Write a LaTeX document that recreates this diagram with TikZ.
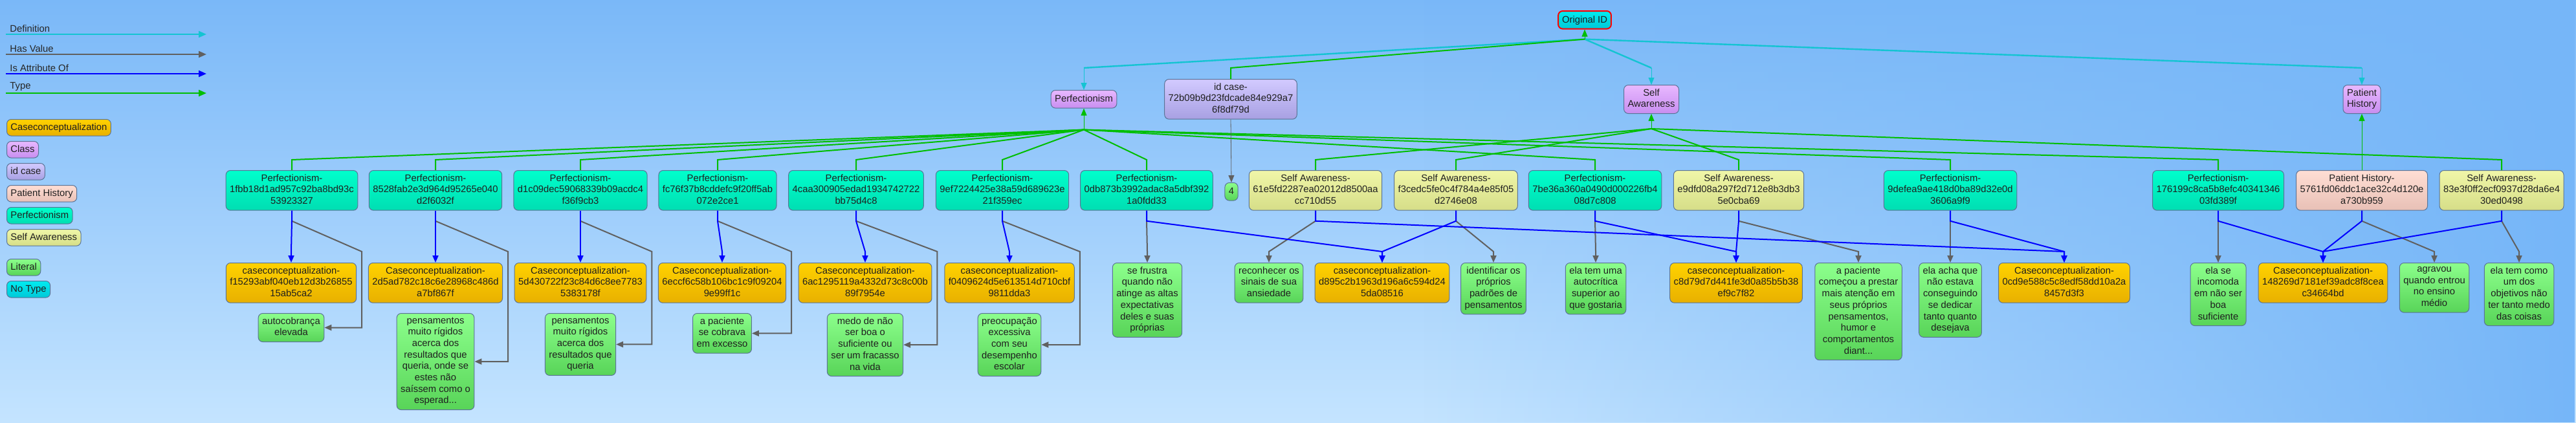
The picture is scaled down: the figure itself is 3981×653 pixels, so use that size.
\documentclass[tikz,border=0pt]{standalone}
\usepackage{fontspec}
\setmainfont{Liberation Sans}
\usetikzlibrary{arrows.meta,calc,fadings}

\definecolor{bgtop}{RGB}{122,184,248}
\definecolor{bgbot}{RGB}{196,228,255}
\definecolor{bgright}{RGB}{118,182,248}
\definecolor{edgedef}{RGB}{20,196,210}
\definecolor{edgeval}{RGB}{96,96,96}
\definecolor{edgeattr}{RGB}{0,0,255}
\definecolor{edgetype}{RGB}{0,190,0}
\definecolor{boxline}{RGB}{90,115,150}
\definecolor{perftop}{RGB}{0,255,204}
\definecolor{perfbot}{RGB}{0,222,178}
\definecolor{casetop}{RGB}{255,210,0}
\definecolor{casebot}{RGB}{232,176,0}
\definecolor{littop}{RGB}{140,255,140}
\definecolor{litbot}{RGB}{88,212,88}
\definecolor{satop}{RGB}{240,246,168}
\definecolor{sabot}{RGB}{214,222,136}
\definecolor{phtop}{RGB}{255,222,212}
\definecolor{phbot}{RGB}{232,192,182}
\definecolor{clstop}{RGB}{232,184,255}
\definecolor{clsbot}{RGB}{200,142,240}
\definecolor{idtop}{RGB}{210,202,255}
\definecolor{idbot}{RGB}{168,160,226}
\definecolor{notop}{RGB}{0,236,240}
\definecolor{nobot}{RGB}{0,200,216}

\begin{document}
\begin{tikzpicture}[
every node/.style={font=\fontsize{7.4}{8.85}\selectfont},
x=0.5pt,
y=-0.5pt,
box/.style={draw=boxline, line width=0.5pt, rounded corners=3.5pt,
  align=center, anchor=north, inner xsep=3pt, inner ysep=3pt, text=black!88,
  execute at begin node={\rule{0pt}{6pt}},
  execute at end node={\rule[-1.8pt]{0pt}{1.8pt}}},
perfbox/.style={box, top color=perftop, bottom color=perfbot},
casebox/.style={box, top color=casetop, bottom color=casebot},
litbox/.style={box, top color=littop, bottom color=litbot},
sabox/.style={box, top color=satop, bottom color=sabot},
phbox/.style={box, top color=phtop, bottom color=phbot},
clsbox/.style={box, top color=clstop, bottom color=clsbot},
idbox/.style={box, top color=idtop, bottom color=idbot},
notypebox/.style={box, top color=notop, bottom color=nobot},
origbox/.style={notypebox, draw=red, line width=1pt},
legbox/.style={anchor=north west, inner ysep=2.5pt},
legtext/.style={anchor=south west, inner xsep=3pt, inner ysep=1.5pt, text=black!85},
arrowtip/.style={-{Triangle[length=5.5pt,width=4.5pt]}},
legtip/.style={-{Triangle[length=6pt,width=5pt]}},
defedge/.style={draw=edgedef, line width=1.2pt},
valedge/.style={draw=edgeval, line width=1pt, arrowtip},
attredge/.style={draw=edgeattr, line width=1pt, arrowtip},
typeedge/.style={draw=edgetype, line width=1pt}
]

\useasboundingbox (0,0) rectangle (3981,653);
\shade[top color=bgtop, bottom color=bgbot] (0,0) rectangle (3981,653);
\fill[bgright, path fading=west] (2200,0) rectangle (3981,653);

% legend of edges
\coordinate (lgda1) at (9,53);   \coordinate (lgda2) at (319,53);
\coordinate (lgdb1) at (9,84);   \coordinate (lgdb2) at (319,84);
\coordinate (lgdc1) at (9,114);  \coordinate (lgdc2) at (319,114);
\coordinate (lgdd1) at (9,144);  \coordinate (lgdd2) at (319,144);
\node[legtext] (lgda) at (lgda1) {Definition};
\node[legtext] (lgdb) at (lgdb1) {Has Value};
\node[legtext] (lgdc) at (lgdc1) {Is Attribute Of};
\node[legtext] (lgdd) at (lgdd1) {Type};
\draw[defedge,line width=1pt,legtip] (lgda1) -- (lgda2);
\draw[draw=edgeval,line width=1pt,legtip] (lgdb1) -- (lgdb2);
\draw[draw=edgeattr,line width=1pt,legtip] (lgdc1) -- (lgdc2);
\draw[typeedge,legtip] (lgdd1) -- (lgdd2);

% legend of node types
\node[casebox,legbox] (kcase) at (10,184) {Caseconceptualization};
\node[clsbox,legbox] (kcls) at (10,218) {Class};
\node[idbox,legbox] (kid) at (10,252) {id case};
\node[phbox,legbox] (kph) at (10,286) {Patient History};
\node[perfbox,legbox] (kperf) at (10,320) {Perfectionism};
\node[sabox,legbox] (ksa) at (10,354) {Self Awareness};
\node[litbox,legbox] (klit) at (10,400) {Literal};
\node[notypebox,legbox] (knot) at (10,434) {No Type};

% classes
\node[origbox] (orig) at (2449,16) {Original ID};
\node[clsbox] (perf) at (1675,139) {Perfectionism};
\node[idbox] (idc) at (1902,122) {id case-\\72b09b9d23fdcade84e929a7\\6f8df79d};
\node[clsbox] (sacls) at (2552,131) {Self\\Awareness};
\node[clsbox] (phcls) at (3650,131) {Patient\\History};
\node[litbox] (four) at (1903,282) {4};

% instances
\node[perfbox] (p1) at (451,263) {Perfectionism-\\1fbb18d1ad957c92ba8bd93c\\53923327};
\node[perfbox] (p2) at (673,263) {Perfectionism-\\8528fab2e3d964d95265e040\\d2f6032f};
\node[perfbox] (p3) at (897,263) {Perfectionism-\\d1c09dec59068339b09acdc4\\f36f9cb3};
\node[perfbox] (p4) at (1109,263) {Perfectionism-\\fc76f37b8cddefc9f20ff5ab\\072e2ce1};
\node[perfbox] (p5) at (1323,263) {Perfectionism-\\4caa300905edad1934742722\\bb75d4c8};
\node[perfbox] (p6) at (1549,263) {Perfectionism-\\9ef7224425e38a59d689623e\\21f359ec};
\node[perfbox] (p7) at (1772,263) {Perfectionism-\\0db873b3992adac8a5dbf392\\1a0fdd33};
\node[sabox] (sa1) at (2033,263) {Self Awareness-\\61e5fd2287ea02012d8500aa\\cc710d55};
\node[sabox] (sa2) at (2250,263) {Self Awareness-\\f3cedc5fe0c4f784a4e85f05\\d2746e08};
\node[perfbox] (p8) at (2465,263) {Perfectionism-\\7be36a360a0490d000226fb4\\08d7c808};
\node[sabox] (sa3) at (2687,263) {Self Awareness-\\e9dfd08a297f2d712e8b3db3\\5e0cba69};
\node[perfbox] (p9) at (3014,263) {Perfectionism-\\9defea9ae418d0ba89d32e0d\\3606a9f9};
\node[perfbox] (p10) at (3428,263) {Perfectionism-\\176199c8ca5b8efc40341346\\03fd389f};
\node[phbox] (ph) at (3650,263) {Patient History-\\5761fd06ddc1ace32c4d120e\\a730b959};
\node[sabox] (sa4) at (3866,263) {Self Awareness-\\83e3f0ff2ecf0937d28da6e4\\30ed0498};

% case conceptualizations
\node[casebox] (c1) at (450,406) {caseconceptualization-\\f15293abf040eb12d3b26855\\15ab5ca2};
\node[casebox] (c2) at (673,406) {Caseconceptualization-\\2d5ad782c18c6e28968c486d\\a7bf867f};
\node[casebox] (c3) at (897,406) {Caseconceptualization-\\5d430722f23c84d6c8ee7783\\5383178f};
\node[casebox] (c4) at (1116,406) {Caseconceptualization-\\6eccf6c58b106bc1c9f09204\\9e99ff1c};
\node[casebox] (c5) at (1337,406) {Caseconceptualization-\\6ac1295119a4332d73c8c00b\\89f7954e};
\node[casebox] (c6) at (1560,406) {caseconceptualization-\\f0409624d5e613514d710cbf\\9811dda3};
\node[casebox] (c7) at (2136,406) {caseconceptualization-\\d895c2b1963d196a6c594d24\\5da08516};
\node[casebox] (c8) at (2683,406) {caseconceptualization-\\c8d79d7d441fe3d0a85b5b38\\ef9c7f82};
\node[casebox] (c9) at (3190,406) {Caseconceptualization-\\0cd9e588c5c8edf58dd10a2a\\8457d3f3};
\node[casebox] (c10) at (3590,406) {Caseconceptualization-\\148269d7181ef39adc8f8cea\\c34664bd};

% literals
\node[litbox] (l1) at (450,484) {autocobrança\\elevada};
\node[litbox] (l2) at (673,484) {pensamentos\\muito rígidos\\acerca dos\\resultados que\\queria, onde se\\estes não\\saíssem como o\\esperad...};
\node[litbox] (l3) at (897,484) {pensamentos\\muito rígidos\\acerca dos\\resultados que\\queria};
\node[litbox] (l4) at (1116,484) {a paciente\\se cobrava\\em excesso};
\node[litbox] (l5) at (1337,484) {medo de não\\ser boa o\\suficiente ou\\ser um fracasso\\na vida};
\node[litbox] (l6) at (1560,484) {preocupação\\excessiva\\com seu\\desempenho\\escolar};
\node[litbox] (l7) at (1773,406) {se frustra\\quando não\\atinge as altas\\expectativas\\deles e suas\\próprias};
\node[litbox] (l8) at (1961,406) {reconhecer os\\sinais de sua\\ansiedade};
\node[litbox] (l9) at (2308,406) {identificar os\\próprios\\padrões de\\pensamentos};
\node[litbox] (l10) at (2466,406) {ela tem uma\\autocrítica\\superior ao\\que gostaria};
\node[litbox] (l11) at (2872,406) {a paciente\\começou a prestar\\mais atenção em\\seus próprios\\pensamentos,\\humor e\\comportamentos\\diant...};
\node[litbox] (l12) at (3014,406) {ela acha que\\não estava\\conseguindo\\se dedicar\\tanto quanto\\desejava};
\node[litbox] (l13) at (3428,406) {ela se\\incomoda\\em não ser\\boa\\suficiente};
\node[litbox] (l14) at (3762,406) {agravou\\quando entrou\\no ensino\\médio};
\node[litbox] (l15) at (3893,406) {ela tem como\\um dos\\objetivos não\\ter tanto medo\\das coisas};

% junctions
\coordinate (jdef) at ($(orig.south)+(0,15)$);
\coordinate (dbend) at ($(idc.north)+(0,-17)$);
\coordinate (jperf) at ($(perf.south)+(0,33)$);
\coordinate (jsa) at ($(sacls.south)+(0,23)$);

% definition edges
\draw[defedge] (jdef) -- (perf.north |- dbend);
\draw[defedge] (jdef) -- (sacls.north |- dbend);
\draw[defedge] (jdef) -- (phcls.north |- dbend);
\draw[defedge,thin,arrowtip] (perf.north |- dbend) -- (perf.north);
\draw[defedge,thin,arrowtip] (sacls.north |- dbend) -- (sacls.north);
\draw[defedge,thin,arrowtip] (phcls.north |- dbend) -- (phcls.north);

% type edges
\draw[typeedge] (idc.north) -- (dbend) -- (jdef);
\draw[typeedge,thin,arrowtip] (jdef) -- (orig.south);
\draw[typeedge] (p1.north) -- ++(0,-16) -- (jperf);
\draw[typeedge] (p2.north) -- ++(0,-16) -- (jperf);
\draw[typeedge] (p3.north) -- ++(0,-16) -- (jperf);
\draw[typeedge] (p4.north) -- ++(0,-16) -- (jperf);
\draw[typeedge] (p5.north) -- ++(0,-16) -- (jperf);
\draw[typeedge] (p6.north) -- ++(0,-16) -- (jperf);
\draw[typeedge] (p7.north) -- ++(0,-16) -- (jperf);
\draw[typeedge] (p8.north) -- ++(0,-16) -- (jperf);
\draw[typeedge] (p9.north) -- ++(0,-16) -- (jperf);
\draw[typeedge] (p10.north) -- ++(0,-16) -- (jperf);
\draw[typeedge] (sa1.north) -- ++(0,-16) -- (jsa);
\draw[typeedge] (sa2.north) -- ++(0,-16) -- (jsa);
\draw[typeedge] (sa3.north) -- ++(0,-16) -- (jsa);
\draw[typeedge] (sa4.north) -- ++(0,-16) -- (jsa);
\draw[typeedge,thin,arrowtip] (jperf) -- (perf.south);
\draw[typeedge,thin,arrowtip] (jsa) -- (sacls.south);
\draw[typeedge,thin,arrowtip] (ph.north) -- (phcls.south);

% has value edges
\draw[valedge,thin] (idc.south) -- (four.north);
\draw[valedge] ($(p1.south)+(0,16)$) -- ($(c1.north east)+(8,-17)$) |- (l1.east);
\draw[valedge] ($(p2.south)+(0,16)$) -- ($(c2.north east)+(8,-17)$) |- (l2.east);
\draw[valedge] ($(p3.south)+(0,16)$) -- ($(c3.north east)+(8,-17)$) |- (l3.east);
\draw[valedge] ($(p4.south)+(0,16)$) -- ($(c4.north east)+(8,-17)$) |- (l4.east);
\draw[valedge] ($(p5.south)+(0,16)$) -- ($(c5.north east)+(8,-17)$) |- (l5.east);
\draw[valedge] ($(p6.south)+(0,16)$) -- ($(c6.north east)+(8,-17)$) |- (l6.east);
\draw[valedge] (p7.south) -- ++(0,16) -- ($(l7.north)+(0,-17)$) -- (l7.north);
\draw[valedge] (sa1.south) -- ++(0,16) -- ($(l8.north)+(0,-17)$) -- (l8.north);
\draw[valedge] (sa2.south) -- ++(0,16) -- ($(l9.north)+(0,-17)$) -- (l9.north);
\draw[valedge] (p8.south) -- ++(0,16) -- ($(l10.north)+(0,-17)$) -- (l10.north);
\draw[valedge] (sa3.south) -- ++(0,16) -- ($(l11.north)+(0,-17)$) -- (l11.north);
\draw[valedge] (p9.south) -- ++(0,16) -- ($(l12.north)+(0,-17)$) -- (l12.north);
\draw[valedge] (p10.south) -- ++(0,16) -- ($(l13.north)+(0,-17)$) -- (l13.north);
\draw[valedge] (ph.south) -- ++(0,16) -- ($(l14.north)+(0,-17)$) -- (l14.north);
\draw[valedge] (sa4.south) -- ++(0,16) -- ($(l15.north)+(0,-17)$) -- (l15.north);

% is attribute of edges
\draw[attredge] (p1.south) -- ++(0,16) -- ($(c1.north)+(0,-17)$) -- (c1.north);
\draw[attredge] (p2.south) -- ++(0,16) -- ($(c2.north)+(0,-17)$) -- (c2.north);
\draw[attredge] (p3.south) -- ++(0,16) -- ($(c3.north)+(0,-17)$) -- (c3.north);
\draw[attredge] (p4.south) -- ++(0,16) -- ($(c4.north)+(0,-17)$) -- (c4.north);
\draw[attredge] (p5.south) -- ++(0,16) -- ($(c5.north)+(0,-17)$) -- (c5.north);
\draw[attredge] (p6.south) -- ++(0,16) -- ($(c6.north)+(0,-17)$) -- (c6.north);
\draw[attredge] (p7.south) -- ++(0,16) -- ($(c7.north)+(0,-17)$) -- (c7.north);
\draw[attredge] (sa2.south) -- ++(0,16) -- ($(c7.north)+(0,-17)$) -- (c7.north);
\draw[attredge] (sa1.south) -- ++(0,16) -- ($(c9.north)+(0,-17)$) -- (c9.north);
\draw[attredge] (p8.south) -- ++(0,16) -- ($(c8.north)+(0,-17)$) -- (c8.north);
\draw[attredge] (sa3.south) -- ++(0,16) -- ($(c8.north)+(0,-17)$) -- (c8.north);
\draw[attredge] (p9.south) -- ++(0,16) -- ($(c9.north)+(0,-17)$) -- (c9.north);
\draw[attredge] (p10.south) -- ++(0,16) -- ($(c10.north)+(0,-17)$) -- (c10.north);
\draw[attredge] (ph.south) -- ++(0,16) -- ($(c10.north)+(0,-17)$) -- (c10.north);
\draw[attredge] (sa4.south) -- ++(0,16) -- ($(c10.north)+(0,-17)$) -- (c10.north);

\end{tikzpicture}
\end{document}
